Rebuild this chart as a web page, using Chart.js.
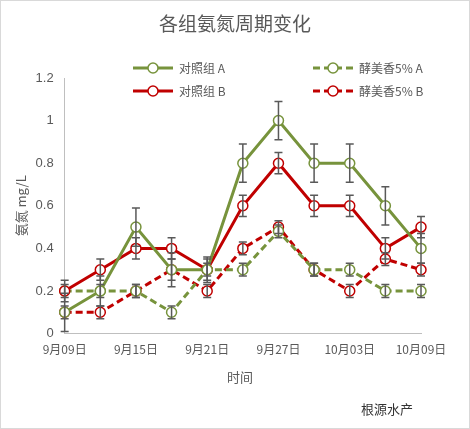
<!DOCTYPE html>
<html lang="zh">
<head>
<meta charset="UTF-8">
<script src="https://cdn.jsdelivr.net/npm/chart.js"></script>
<style>
  body { margin: 0; background: #fff; }
  #wrap { position: relative; width: 468px; height: 427px; border: 1px solid #d9d9d9; }
  .t { position: absolute; font-family: "Noto Sans CJK SC", sans-serif; color: #595959; }
</style>
</head>
<body>
<div id="wrap">
  <canvas id="c" width="468" height="427"></canvas>
  <div class="t" style="left:0;width:468px;top:8px;text-align:center;font-size:19px;">各组氨氮周期变化</div>
  <div class="t" style="left:226px;top:366px;font-size:13px;">时间</div>
  <div class="t" style="left:360px;top:398px;font-size:13px;color:#333;">根源水产</div>
</div>
<script>
const dates = ["9月09日","9月12日","9月15日","9月18日","9月21日","9月24日","9月27日","9月30日","10月03日","10月06日","10月09日"];
const shownTicks = ["9月09日","9月15日","9月21日","9月27日","10月03日","10月09日"];
const ctrlA = [0.1,0.2,0.5,0.3,0.3,0.8,1.0,0.8,0.8,0.6,0.4];
const ctrlAErr = [0.09,0.07,0.09,0.05,0.06,0.09,0.09,0.09,0.09,0.09,0.07];
const ctrlB = [0.2,0.3,0.4,0.4,0.3,0.6,0.8,0.6,0.6,0.4,0.5];
const ctrlBErr = [0.05,0.05,0.05,0.05,0.05,0.05,0.05,0.05,0.05,0.05,0.05];
const yeastA = [0.2,0.2,0.2,0.1,0.3,0.3,0.48,0.3,0.3,0.2,0.2];
const yeastAErr = [0.03,0.03,0.03,0.03,0.03,0.03,0.03,0.03,0.03,0.03,0.03];
const yeastB = [0.1,0.1,0.2,0.3,0.2,0.4,0.5,0.3,0.2,0.35,0.3];
const yeastBErr = [0.03,0.03,0.03,0.08,0.03,0.03,0.03,0.03,0.03,0.03,0.03];

const green = "#77933c", red = "#c00000";
function ds(label, data, err, color, dashed) {
  return { label, data, err, borderColor: color, backgroundColor: "#fff",
    borderWidth: 3, borderDash: dashed ? [7, 4] : [], pointRadius: 5,
    pointBorderWidth: 1.5, pointBorderColor: color, pointBackgroundColor: "#fff", tension: 0 };
}

const errorBars = {
  id: "errorBars",
  afterDatasetsDraw(chart) {
    const ctx = chart.ctx, y = chart.scales.y;
    ctx.save();
    ctx.strokeStyle = "#595959"; ctx.lineWidth = 1.5;
    chart.data.datasets.forEach((d, i) => {
      chart.getDatasetMeta(i).data.forEach((p, j) => {
        const t = y.getPixelForValue(d.data[j] + d.err[j]);
        const b = y.getPixelForValue(d.data[j] - d.err[j]);
        ctx.beginPath();
        ctx.moveTo(p.x, t); ctx.lineTo(p.x, b);
        ctx.moveTo(p.x - 4, t); ctx.lineTo(p.x + 4, t);
        ctx.moveTo(p.x - 4, b); ctx.lineTo(p.x + 4, b);
        ctx.stroke();
      });
    });
    ctx.restore();
  }
};

const legendBox = {
  id: "legendBox",
  afterDraw(chart) {
    const ctx = chart.ctx;
    const items = [[132, 67], [312, 67], [132, 90], [312, 90]];
    const order = [0, 2, 1, 3];
    ctx.save();
    ctx.font = '12px "Noto Sans CJK SC"';
    order.forEach((di, k) => {
      const d = chart.data.datasets[di], [x, yy] = items[k];
      ctx.strokeStyle = d.borderColor; ctx.lineWidth = 3;
      ctx.setLineDash(d.borderDash);
      ctx.beginPath(); ctx.moveTo(x, yy); ctx.lineTo(x + 40, yy); ctx.stroke();
      ctx.setLineDash([]); ctx.lineWidth = 1.5; ctx.fillStyle = "#fff";
      ctx.beginPath(); ctx.arc(x + 20, yy, 5, 0, Math.PI * 2); ctx.fill(); ctx.stroke();
      ctx.fillStyle = "#595959"; ctx.textBaseline = "middle";
      ctx.fillText(d.label, x + 46, yy);
    });
    ctx.restore();
  }
};

new Chart(document.getElementById("c"), {
  type: "line",
  data: {
    labels: dates,
    datasets: [
      ds("对照组 A", ctrlA, ctrlAErr, green, false),
      ds("对照组 B", ctrlB, ctrlBErr, red, false),
      ds("酵美香5% A", yeastA, yeastAErr, green, true),
      ds("酵美香5% B", yeastB, yeastBErr, red, true)
    ]
  },
  options: {
    responsive: false, animation: false,
    layout: { padding: { top: 77, right: 48, bottom: 68, left: 8 } },
    plugins: { legend: { display: false }, tooltip: { enabled: false } },
    scales: {
      x: {
        offset: false,
        grid: { display: false, drawTicks: true, tickLength: 6, color: "#bfbfbf" },
        border: { color: "#bfbfbf" },
        ticks: { autoSkip: false, maxRotation: 0, color: "#595959", font: { size: 12, family: "Noto Sans CJK SC" },
          callback(v) { const l = this.getLabelForValue(v); return shownTicks.includes(l) ? l : ""; } }
      },
      y: {
        min: 0, max: 1.2,
        grid: { display: false },
        border: { color: "#bfbfbf" },
        title: { display: true, text: "氨氮 mg/L", color: "#595959", font: { size: 13, family: "Noto Sans CJK SC" } },
        ticks: { stepSize: 0.2, color: "#595959", font: { size: 13 },
          callback: v => Math.round(v * 10) / 10 }
      }
    }
  },
  plugins: [errorBars, legendBox]
});
</script>
</body>
</html>
